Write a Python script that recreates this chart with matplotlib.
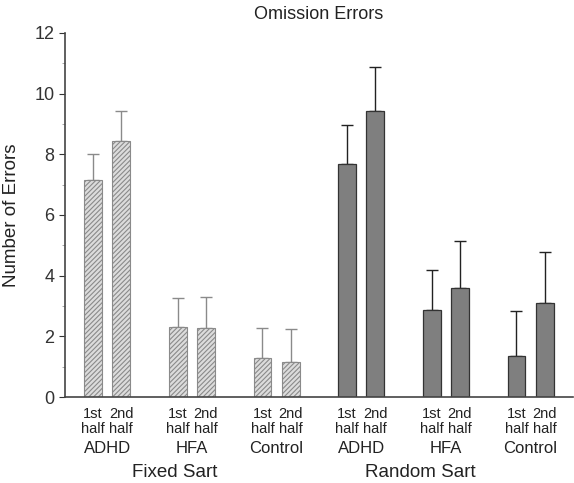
import numpy as np
import matplotlib.pyplot as plt

plt.rcParams['font.family'] = ['Liberation Sans', 'DejaVu Sans']
plt.rcParams['hatch.linewidth'] = 0.8

# data
groups = ["ADHD", "HFA", "Control", "ADHD", "HFA", "Control"]
halves = ["1st\nhalf", "2nd\nhalf"]
fixed_first = [7.15, 2.32, 1.27]
fixed_second = [8.45, 2.29, 1.15]
fixed_err_first = [0.87, 0.93, 0.99]
fixed_err_second = [0.98, 1.02, 1.09]
random_first = [7.67, 2.86, 1.36]
random_second = [9.41, 3.60, 3.10]
random_err_first = [1.28, 1.33, 1.47]
random_err_second = [1.47, 1.54, 1.67]
conditions = ["Fixed Sart", "Random Sart"]

fig = plt.figure(figsize=(5.74, 4.83), dpi=100)
ax = fig.add_axes([0.113, 0.178, 0.885, 0.754])

centers = np.arange(6) * 3.0
w = 0.63
x1 = centers - 0.5
x2 = centers + 0.5

first = fixed_first + random_first
second = fixed_second + random_second
err1 = fixed_err_first + random_err_first
err2 = fixed_err_second + random_err_second

for i in range(6):
    if i < 3:
        kw = dict(color='#dcdcdc', edgecolor='#8a8a8a', hatch='///////', linewidth=0.8)
        ecol = '#8a8a8a'
    else:
        kw = dict(color='#7f7f7f', edgecolor='#333333', linewidth=0.9)
        ecol = '#222222'
    for xx, v, e in [(x1[i], first[i], err1[i]), (x2[i], second[i], err2[i])]:
        ax.bar(xx, v, width=w, zorder=2, **kw)
        ax.errorbar(xx, v, yerr=[[0], [e]], fmt='none', ecolor=ecol,
                    elinewidth=1.0, capsize=4.5, capthick=1.0, zorder=1)

ax.set_xlim(-1.5, 16.5)
ax.set_ylim(0, 12)
ax.set_yticks(np.arange(0, 13, 2))
ax.set_yticks(np.arange(1, 12, 2), minor=True)
ax.tick_params(axis='y', which='major', length=4, width=0.8, labelsize=13, colors='#333333')
ax.tick_params(axis='y', which='minor', length=2, width=0.6, colors='#999999')

xt = np.sort(np.concatenate([x1, x2]))
ax.set_xticks(xt)
ax.set_xticklabels(halves * 6, fontsize=10.5, linespacing=1.15, color='#222222')
ax.tick_params(axis='x', length=0, pad=7)

for s in ['top', 'right']:
    ax.spines[s].set_visible(False)
for s in ['left', 'bottom']:
    ax.spines[s].set_color('#444444')
    ax.spines[s].set_linewidth(1.2)

trans = ax.get_xaxis_transform()
for c, g in zip(centers, groups):
    ax.text(c, -0.14, g, transform=trans, ha='center', va='center', fontsize=12, color='#222222')
ax.text(2.4, -0.206, conditions[0], transform=trans, ha='center', va='center', fontsize=13.5, color='#222222')
ax.text(11.1, -0.206, conditions[1], transform=trans, ha='center', va='center', fontsize=13.5, color='#222222')

ax.set_ylabel("Number of Errors", fontsize=13.5, color='#222222', labelpad=10)
ax.set_title("Omission Errors", fontsize=13, color='#222222', pad=10)

plt.savefig("out.png", dpi=100)
